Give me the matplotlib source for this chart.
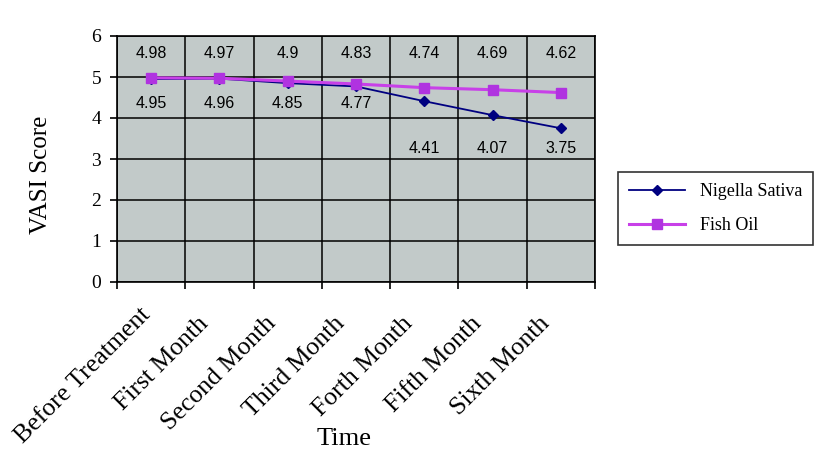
import matplotlib
matplotlib.use("Agg")
import matplotlib.pyplot as plt
import matplotlib.transforms as mtransforms

categories = ["Before Treatment", "First Month", "Second Month", "Third Month",
              "Forth Month", "Fifth Month", "Sixth Month"]
nigella = [4.95, 4.96, 4.85, 4.77, 4.41, 4.07, 3.75]
fish_oil = [4.98, 4.97, 4.9, 4.83, 4.74, 4.69, 4.62]
yticks = [0, 1, 2, 3, 4, 5, 6]

serif = "Liberation Serif"
sans = "Liberation Sans"

fig = plt.figure(figsize=(8.22, 4.68), dpi=100)
ax = fig.add_axes([117/822, 1-282/468, 478/822, 246/468])
ax.set_facecolor("#c2cac9")

x = list(range(len(categories)))
ax.plot(x, nigella, color="#000080", lw=1.3, marker="D", ms=5.5,
        mfc="#000080", mec="#000080", label="Nigella Sativa", zorder=3)
ax.plot(x, fish_oil, color="#c840e8", lw=2.2, marker="s", ms=7,
        mfc="#b033e0", mec="#b033e0", label="Fish Oil", zorder=4)

ax.set_xlim(-0.5, len(categories) - 0.5)
ax.set_ylim(0, 6)
ax.set_yticks(yticks)
ax.set_yticklabels([str(v) for v in yticks], fontfamily=serif, fontsize=14)
# boundaries (grid + tick marks)
ax.set_xticks([i - 0.5 for i in range(len(categories) + 1)])
ax.set_xticklabels([])
# category labels at centers
ax.set_xticks(x, minor=True)
ax.set_xticklabels(categories, minor=True, rotation=45, ha="right", va="top",
                   fontfamily=serif, fontsize=18.5)
ax.tick_params(axis="both", which="major", direction="out", length=5,
               width=1.2, color="black")
ax.tick_params(axis="y", pad=6.5)
ax.tick_params(axis="x", which="minor", length=0, pad=22)
ax.grid(True, which="major", color="black", lw=1.1)
ax.set_axisbelow(True)
for s in ax.spines.values():
    s.set_color("black")
    s.set_linewidth(1.2)

for k, lab in enumerate(ax.get_xticklabels(minor=True)):
    if k == 0:
        off = mtransforms.ScaledTranslation(4/100, 9/100, fig.dpi_scale_trans)
    else:
        off = mtransforms.ScaledTranslation(-7/100, 0, fig.dpi_scale_trans)
    lab.set_transform(lab.get_transform() + off)

# data labels
for i, v in enumerate(fish_oil):
    ax.text(i, 5.585, f"{v:g}", ha="center", va="center",
            fontfamily=sans, fontsize=11.5, color="black")
for i, v in enumerate(nigella):
    yy = 4.35 if i < 4 else 3.25
    ax.text(i, yy, f"{v:g}", ha="center", va="center",
            fontfamily=sans, fontsize=11.5, color="black")

ax.set_ylabel("VASI Score", fontfamily=serif, fontsize=18)
ax.yaxis.set_label_coords(-0.136, 0.437)
ax.set_xlabel("Time", fontfamily=serif, fontsize=19)
ax.xaxis.set_label_coords(0.475, -0.595)

leg = ax.legend(loc="upper left", bbox_to_anchor=(1.048, 0.447),
                prop={"family": serif, "size": 13}, frameon=True,
                fancybox=False, edgecolor="black", handlelength=3.1,
                handletextpad=0.85, labelspacing=0.94, borderpad=0.6,
                borderaxespad=0)
leg.get_frame().set_linewidth(1.2)

fig.savefig("out.png", dpi=100, facecolor="white")
